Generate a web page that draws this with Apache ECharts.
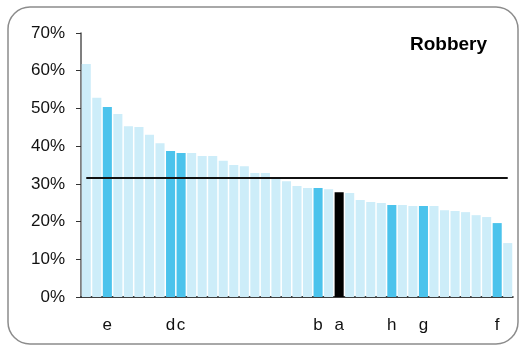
<!DOCTYPE html>
<html>
<head>
<meta charset="utf-8">
<script src="https://cdn.jsdelivr.net/npm/echarts@6/dist/echarts.min.js"></script>
<style>
html,body{margin:0;padding:0;background:#fff;}
#chart{width:522px;height:348px;}
</style>
</head>
<body>
<div id="chart"></div>
<script>
// Category labels (blank = unlabelled area)
const categories = ['', '', 'e', '', '', '', '', '', 'd', 'c',
  '', '', '', '', '', '', '', '', '', '',
  '', '', 'b', '', 'a', '', '', '', '', 'h',
  '', '', 'g', '', '', '', '', '', '', 'f', ''];
// Robbery rate per area (%)
const values = [61.8, 52.8, 50.4, 48.5, 45.3, 45.1, 43.0, 40.8, 38.7, 38.2,
  38.2, 37.4, 37.4, 36.1, 35.0, 34.7, 32.9, 32.9, 31.3, 30.7,
  29.4, 28.9, 28.9, 28.6, 27.8, 27.6, 25.7, 25.2, 24.9, 24.4,
  24.4, 24.1, 24.1, 24.1, 23.0, 22.8, 22.5, 21.7, 21.2, 19.6, 14.3];
const average = 31.5;
const yTicks = [0, 10, 20, 30, 40, 50, 60, 70];
const title = 'Robbery';

const lightColor = '#CDEDF9';
const highlightColor = '#4BC3EC';
const focusColor = '#000000';

const barData = values.map((v, i) => ({
  value: v,
  itemStyle: {
    color: categories[i] === 'a' ? focusColor : (categories[i] ? highlightColor : lightColor)
  }
}));

const chart = echarts.init(document.getElementById('chart'), null, {renderer: 'canvas'});
chart.setOption({
  animation: false,
  textStyle: {fontFamily: 'Liberation Sans, Arial, sans-serif'},
  graphic: [{
    type: 'rect',
    shape: {x: 8, y: 7, width: 510, height: 337, r: 22},
    style: {fill: 'none', stroke: '#8c8c8c', lineWidth: 1.5},
    silent: true, z: -1
  }, {
    type: 'text',
    left: 410, top: 35,
    style: {text: title, font: 'bold 19px "Liberation Sans", Arial, sans-serif', fill: '#000'}
  }],
  grid: {left: 81, right: 9, top: 33, bottom: 51, containLabel: false},
  xAxis: {
    type: 'category',
    data: categories,
    axisLine: {show: true, lineStyle: {color: '#000', width: 1.5}},
    axisTick: {show: false},
    axisLabel: {interval: 0, color: '#111', fontSize: 17, margin: 20, fontFamily: 'Liberation Sans, Arial, sans-serif'},
    splitLine: {show: false}
  },
  yAxis: {
    type: 'value',
    min: yTicks[0], max: yTicks[yTicks.length - 1], interval: 10,
    axisLine: {show: true, lineStyle: {color: '#555', width: 1.5}},
    axisTick: {show: true, length: 5, lineStyle: {color: '#333'}},
    axisLabel: {formatter: '{value}%', color: '#111', fontSize: 17, margin: 16, fontFamily: 'Liberation Sans, Arial, sans-serif'},
    splitLine: {show: false}
  },
  series: [{
    type: 'bar',
    data: barData,
    barCategoryGap: '14%',
    markLine: {
      silent: true,
      symbol: 'none',
      label: {show: false},
      lineStyle: {color: '#111', width: 2, type: 'solid'},
      data: [[{xAxis: 0, yAxis: average}, {xAxis: categories.length - 1, yAxis: average}]]
    }
  }]
});
</script>
</body>
</html>
